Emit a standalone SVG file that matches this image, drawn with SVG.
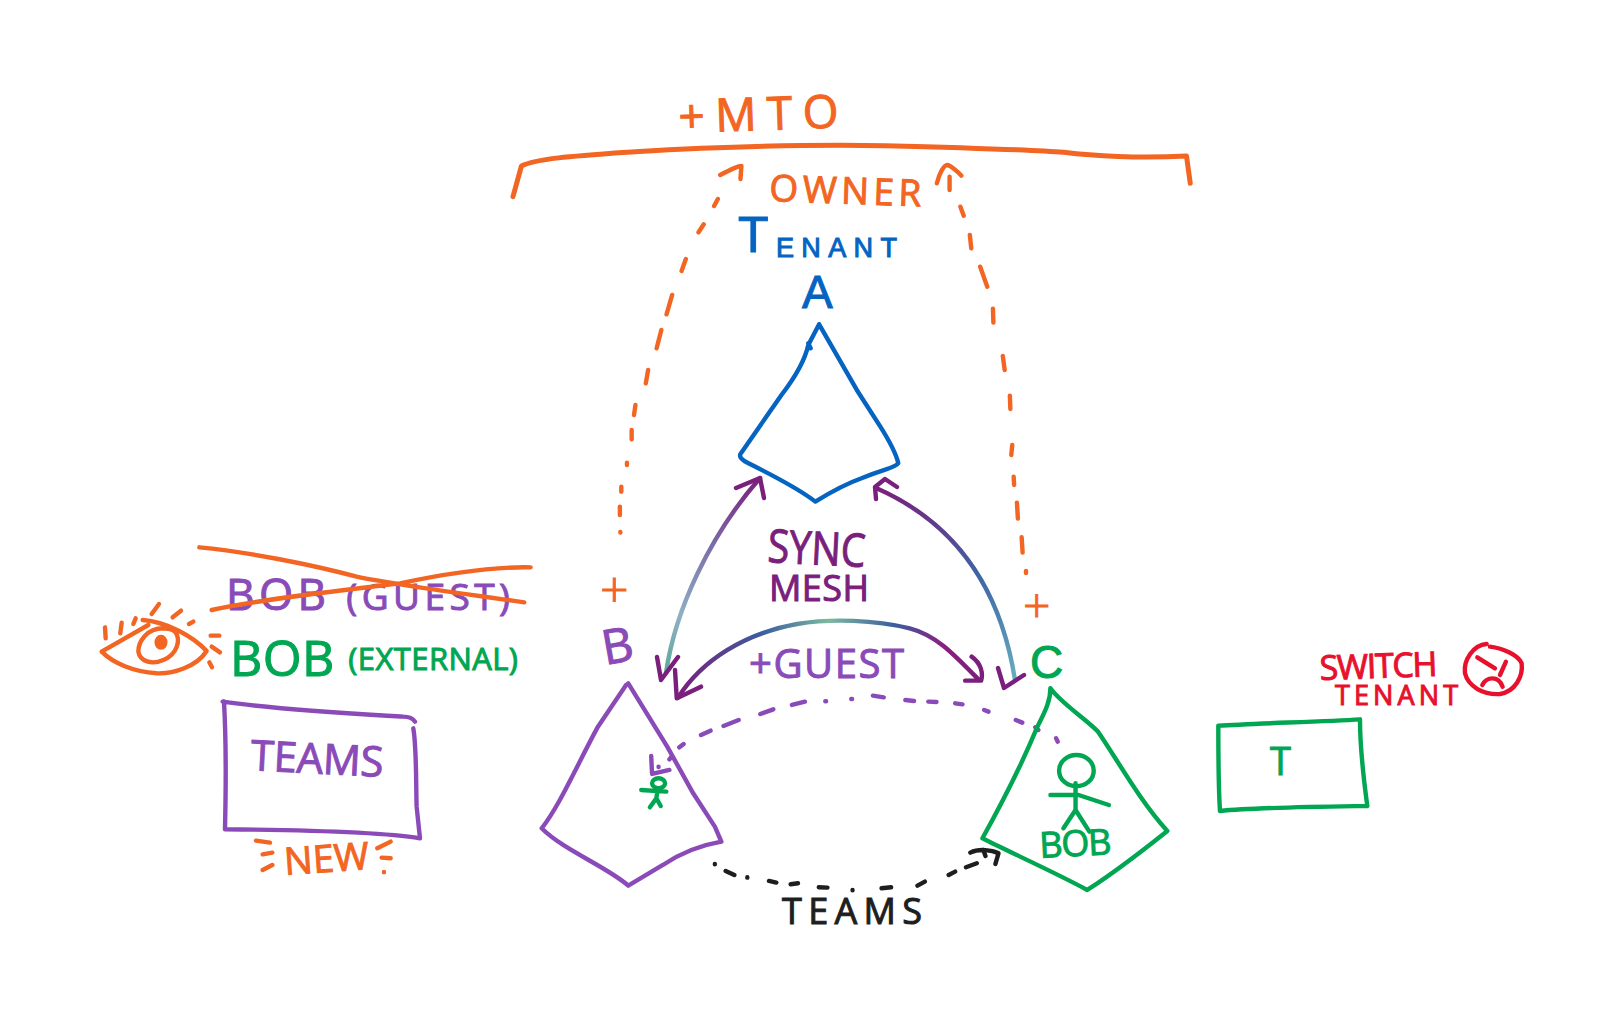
<svg xmlns="http://www.w3.org/2000/svg" width="1623" height="1025" viewBox="0 0 1623 1025">
<style>
path,ellipse{fill:none;stroke-linecap:round;stroke-linejoin:round;stroke-width:4.4;vector-effect:non-scaling-stroke}
text{font-family:"Open Sans","Liberation Sans",Arial,sans-serif;stroke:none}
text.tight{font-family:"Liberation Sans",Arial,sans-serif}
.or{stroke:#F26522}.bl{stroke:#0563C1}.pu{stroke:#8A4BB8}.gr{stroke:#00A651}.re{stroke:#E8112D}.dp{stroke:#7A1F7C}.bk{stroke:#1E1E1E}
text.or{fill:#F26522}text.bl{fill:#0563C1}text.pu{fill:#8A4BB8}text.gr{fill:#00A651}text.re{fill:#E8112D}text.dp{fill:#7A1F7C}text.bk{fill:#1E1E1E}
.plus{font-weight:300}
</style>
<defs>
<linearGradient id="g1" x1="0" y1="0" x2="0" y2="1"><stop offset="0" stop-color="#7A1F7C"/><stop offset=".35" stop-color="#7A6FA8"/><stop offset=".7" stop-color="#8FB0C4"/><stop offset="1" stop-color="#5FA89A"/></linearGradient>
<linearGradient id="g2" x1="0" y1="0" x2="0" y2="1"><stop offset="0" stop-color="#7A1F7C"/><stop offset=".45" stop-color="#3F64A4"/><stop offset="1" stop-color="#67AFC0"/></linearGradient>
<linearGradient id="g3" x1="0" y1="0" x2="1" y2="0"><stop offset="0" stop-color="#7A1F7C"/><stop offset=".28" stop-color="#3A5E9E"/><stop offset=".5" stop-color="#7CB9A0"/><stop offset=".72" stop-color="#3A5E9E"/><stop offset=".88" stop-color="#8A1F80"/><stop offset="1" stop-color="#7A1F7C"/></linearGradient>
</defs>

<g id="connectors">
<g id="owner-left" transform="translate(480 80) scale(.471 .3333)">
<path class="or" d="M298 1356V1358M297 1280V1305M300 1220V1235M312 1148V1155M322 1050V1078M330 975L327 1005M357 870L352 910M385 750L375 805M408 645L396 703M437 537L428 573M475 433L464 457M505 357L497 378M510 285C530 270 550 258 555 258L553 297"/>
</g>
<g id="owner-right" transform="translate(480 80) scale(.471 .3333)">
<path class="or" d="M1150 1372L1152 1418M1140 1268L1142 1316M1133 1190L1134 1215M1130 1095L1128 1125M1125 947L1126 987M1110 828L1114 870M1089 686L1090 728M1062 560L1077 620M1040 465L1043 505M1020 380L1027 407M997 290V330M970 310C975 280 985 255 992 255C1000 258 1015 275 1022 287"/>
</g>
<path id="owner-right-end" class="or" d="M1026 571V573"/>
<g id="sync-ab">
<path d="M666 673C675 610 710 535 760 478" stroke="url(#g1)"/>
<path class="dp" d="M736 488L760 478L764 498M657 657L661 680L678 657"/>
</g>
<g id="sync-ac">
<path d="M1015 680C1004 610 972 530 876 488" stroke="url(#g2)"/>
<path class="dp" d="M876 499L875 487L885 479L897 487M998 668L1004 688L1024 675"/>
</g>
<g id="sync-bc" transform="translate(520 520) scale(.433 .3333)">
<path d="M365 533C420 420 520 340 640 312C720 295 820 300 900 325C960 345 1000 400 1060 480" stroke="url(#g3)"/>
<path class="dp" d="M358 450L362 535L418 500M1043 410C1065 430 1070 460 1065 482L1028 482"/>
</g>
<g id="guest-link" transform="translate(520 520) scale(.433 .3333)">
<path class="pu" d="M303 708L305 762L345 750M320 740V741M345 718L350 710M368 682L378 672M418 645L440 632M470 618L505 600M555 582L585 568M628 555L658 545M705 544H707M765 537H767M815 527L840 532M890 540L910 543M943 545L962 546M1005 550L1022 553M1072 570L1082 575M1145 600L1160 608M1190 622L1197 630M1238 655L1242 665"/>
</g>
<g id="teams-link" transform="translate(520 520) scale(.433 .3333)">
<path class="bk" d="M450 1032V1033M475 1053L495 1065M525 1072V1073M575 1083L592 1088M625 1093L642 1090M690 1102L710 1103M768 1110V1111M835 1105L857 1102M918 1097L935 1085M990 1065L1005 1055M1030 1042L1055 1030M1040 998C1060 985 1090 990 1105 1000L1098 1032M1070 990L1075 1008"/>
</g>
</g>

<g id="mto">
<path class="or" style="stroke-width:5" transform="translate(480 80) scale(.471 .3333)" d="M70 350L88 258C120 235 200 228 330 215C480 203 700 193 860 197C1000 202 1180 210 1240 217C1300 228 1400 236 1500 228L1508 310"/>
<text class="or" x="679" y="133" font-size="46" textLength="160" transform="rotate(-2 679 133)">+MTO</text>
<text class="or" x="769" y="201" font-size="37" textLength="152" transform="rotate(2 769 201)">OWNER</text>
</g>

<g id="tenant-a">
<text class="bl tight" x="738" y="257" font-size="27" textLength="159"><tspan font-size="50" dy="-5">T</tspan><tspan dy="5">ENANT</tspan></text>
<text class="bl tight" x="802" y="308" font-size="46">A</text>
<path class="bl" transform="translate(480 80) scale(.471 .3333)" d="M720 733L800 930L850 1040C870 1085 885 1130 888 1150C880 1165 860 1165 810 1195C770 1215 735 1245 712 1265C680 1230 620 1185 570 1150C555 1140 550 1130 553 1122L640 945C670 890 690 840 697 795L720 733M702 805L697 790"/>
</g>

<g id="sync-label">
<text class="dp" x="767" y="562" font-size="46" textLength="98" lengthAdjust="spacingAndGlyphs" transform="rotate(3 767 562)">SYNC</text>
<text class="dp" x="769" y="601" font-size="36" textLength="100">MESH</text>
</g>
<text id="guest-label" class="pu" x="749" y="678" font-size="40" textLength="155">+GUEST</text>
<text id="plus-b" class="or plus" x="600" y="608" font-size="50">+</text>
<text id="plus-c" class="or plus" x="1023" y="623" font-size="48">+</text>

<g id="tenant-b">
<text class="pu" x="605" y="665" font-size="48" transform="rotate(-10 605 665)">B</text>
<path class="pu" transform="translate(520 520) scale(.433 .3333)" d="M250 490L340 680L400 820L450 920L465 965C420 975 370 1000 330 1035L250 1097C200 1040 100 990 50 925C90 860 130 740 180 620L245 495"/>
<g id="small-bob" transform="translate(520 520) scale(.433 .3333)">
<ellipse class="gr" cx="320" cy="790" rx="15" ry="15"/>
<path class="gr" d="M280 810L338 815M318 805L315 835M315 835L300 862M315 835L325 858"/>
</g>
</g>

<g id="tenant-c">
<text class="gr tight" x="1030" y="678" font-size="46">C</text>
<path class="gr" transform="translate(520 520) scale(.433 .3333)" d="M1225 505C1250 550 1300 590 1335 635C1380 720 1430 840 1495 933C1440 990 1370 1060 1310 1110C1240 1060 1120 990 1068 955C1100 880 1160 730 1195 620C1215 570 1225 540 1225 505"/>
<g id="big-bob" transform="translate(520 520) scale(.433 .3333)">
<ellipse class="gr" cx="1285" cy="752" rx="40" ry="47"/>
<path class="gr" d="M1283 790V870M1225 825L1290 825L1360 855M1283 870L1255 925M1283 870L1315 935"/>
</g>
<text class="gr" x="1040" y="858" font-size="36" textLength="72" transform="rotate(-3 1040 858)">BOB</text>
</g>

<g id="bob-guest">
<text class="pu" x="226" y="610" font-size="44" textLength="284">BOB <tspan font-size="37">(GUEST)</tspan></text>
<path class="or" transform="translate(80 520) scale(.3333)" d="M358 82C500 95 700 135 830 170C900 185 1100 215 1333 247M395 270C550 235 800 210 960 190C1100 160 1250 140 1352 142"/>
</g>

<g id="eye" transform="translate(80 520) scale(.3333)">
<path class="or" d="M65 395L205 315M188 300C260 305 340 350 380 393C350 440 280 462 230 460C160 455 100 430 65 395M250 325C200 325 175 365 175 395C180 425 215 435 250 420C290 405 305 360 285 335C275 325 260 325 245 325M75 322L77 355M125 308L121 340M167 295L160 312M237 252L215 282M303 272L278 292M340 305L327 312M392 347H418M395 380L420 397M388 427L396 442"/>
<ellipse class="or" cx="243" cy="367" rx="13" ry="16" style="fill:#F26522"/>
</g>

<text id="bob-external" class="gr" x="230" y="676" font-size="50" textLength="288">BOB <tspan font-size="31" dy="-6">(EXTERNAL)</tspan></text>

<g id="teams-card">
<path class="pu" transform="translate(80 520) scale(.3333)" d="M428 545C600 570 800 580 970 590C990 590 1000 597 1005 605M1000 625C1010 680 1008 800 1010 860L1020 955C900 935 650 930 435 928C438 800 438 650 432 545"/>
<text class="pu" x="250" y="770" font-size="42" textLength="133" transform="rotate(3 250 770)">TEAMS</text>
</g>

<g id="new-badge">
<text class="or" x="285" y="875" font-size="38" textLength="85" transform="rotate(-4 285 875)">NEW</text>
<path class="or" transform="translate(80 520) scale(.3333)" d="M528 962L570 968M548 1003L577 998M548 1050L577 1035M892 985L932 965M905 1013L932 1015M912 1056V1057"/>
</g>

<text id="teams-label" class="bk" x="782" y="924" font-size="36" textLength="140">TEAMS</text>

<g id="t-card">
<path class="gr" transform="translate(1190 620) scale(.3333)" d="M85 317C200 310 400 305 510 298C510 380 520 470 532 558C400 560 200 562 90 573C85 500 85 400 85 317"/>
<text class="gr" x="1270" y="775" font-size="38">T</text>
</g>

<g id="switch-tenant">
<text class="re" x="1320" y="680" font-size="34" textLength="118" transform="rotate(-2 1320 680)">SWITCH</text>
<text class="re" x="1335" y="705" font-size="27" textLength="123">TENANT</text>
<path class="re" transform="translate(1190 620) scale(.3333)" d="M890 72C850 75 820 120 825 160C835 200 880 225 930 222C975 215 1000 170 995 130C985 105 940 85 900 80M862 112L915 145M948 125L930 165M877 195C890 170 925 165 938 200"/>
</g>
</svg>
